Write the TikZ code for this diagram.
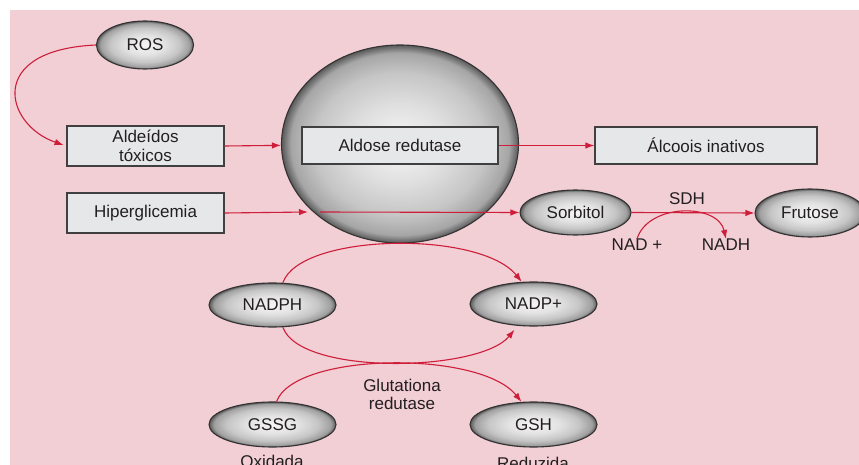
\documentclass[tikz,border=0pt]{standalone}
\usepackage{fontspec}
\setmainfont{Liberation Sans}
\usetikzlibrary{shapes.geometric,arrows.meta}
\definecolor{bgpink}{RGB}{242,206,213}
\definecolor{boxgray}{RGB}{230,231,233}
\definecolor{arrred}{RGB}{206,30,58}
\definecolor{txt}{RGB}{35,31,32}
\pgfdeclareradialshading{ovalshade}{\pgfpoint{0bp}{0bp}}{color(0bp)=(white!92!gray); color(10bp)=(gray!22); color(18bp)=(gray!45); color(23bp)=(gray!75); color(25bp)=(black!65); color(50bp)=(black!65)}
\pgfdeclareradialshading{sphshade}{\pgfpoint{0bp}{0bp}}{color(0bp)=(white!94!gray); color(10bp)=(gray!25); color(18bp)=(gray!45); color(23bp)=(gray!70); color(25bp)=(black!65); color(50bp)=(black!65)}
\tikzset{
  box/.style={rectangle, draw=black!75, line width=1.2pt, fill=boxgray, text=txt, align=center, inner sep=0pt},
  oval/.style={ellipse, draw=black!80, line width=1.1pt, shading=ovalshade, text=txt, inner sep=0pt},
  arr/.style={draw=arrred, line width=1.1pt, -{Latex[length=9pt,width=6.5pt]}},
  lbl/.style={text=txt, inner sep=0pt, align=center}
}
\begin{document}
\begin{tikzpicture}[x=1pt,y=-1pt,font=\fontsize{17}{18.5}\selectfont]
\clip (0,0) rectangle (859,465);
\useasboundingbox (0,0) rectangle (859,465);
\fill[bgpink] (10,10) rectangle (870,470);

% big sphere
\node[ellipse, draw=black!80, line width=1.1pt, shading=sphshade, minimum width=237pt, minimum height=198pt] (sphere) at (400,144) {};

% boxes
\node[box, minimum width=157pt, minimum height=40pt] (ald) at (145.5,146) {Aldeídos\\tóxicos};
\node[box, minimum width=157pt, minimum height=40pt] (hip) at (145.5,213) {Hiperglicemia};
\node[box, minimum width=196pt, minimum height=37pt] (ar) at (400,145.5) {Aldose redutase};
\node[box, minimum width=222pt, minimum height=37pt] (alc) at (706,145.5) {Álcoois inativos};

% ovals
\node[oval, minimum width=97pt, minimum height=48pt] (ros) at (145,45) {ROS};
\node[oval, minimum width=111pt, minimum height=45pt] (sorb) at (575.5,212.5) {Sorbitol};
\node[oval, minimum width=110pt, minimum height=48pt] (fru) at (810,213) {Frutose};
\node[oval, minimum width=127pt, minimum height=44pt] (nadph) at (272.5,305) {NADPH};
\node[oval, minimum width=127pt, minimum height=44pt] (nadp) at (533.5,304) {NADP+};
\node[oval, minimum width=127pt, minimum height=45pt] (gssg) at (272.5,424.5) {GSSG};
\node[oval, minimum width=127pt, minimum height=45pt] (gsh) at (533.5,424.5) {GSH};

% labels
\node[lbl] (sdh) at (687,199) {SDH};
\node[lbl] (nadplus) at (637,245) {NAD +};
\node[lbl] (nadh) at (726,245) {NADH};
\node[lbl] (glut) at (402,394.5) {Glutationa\\redutase};
\node[lbl] (oxi) at (272,461) {Oxidada};
\node[lbl] (red) at (533,463) {Reduzida};

% coordinates for the split hyperglycemia arrow
\coordinate (h1) at (308,212);
\coordinate (h2) at (320,212);

% connectors
\draw[arr, shorten >=3pt] (ros.west) .. controls (-15,50) and (5,125) .. (ald.west);
\draw[arr] (ald.east) -- (sphere);
\draw[arr] (hip.east) -- (h1);
\draw[arr] (h2) -- (sorb.west);
\draw[arr] (ar.east) -- (alc.west);
\draw[arr] (sorb.east) -- (fru.west);
\draw[arr] (nadplus.north) .. controls (648,203) and (718,203) .. (nadh.north);
\draw[arr] (nadph.65) .. controls (300,233) and (480,230) .. (nadp.118);
\draw[arr, shorten >=5pt] (nadph.-65) .. controls (300,376) and (480,372) .. (nadp.-126);
\draw[arr] (gssg.80) .. controls (295,352) and (480,350) .. (gsh.118);
\end{tikzpicture}
\end{document}
